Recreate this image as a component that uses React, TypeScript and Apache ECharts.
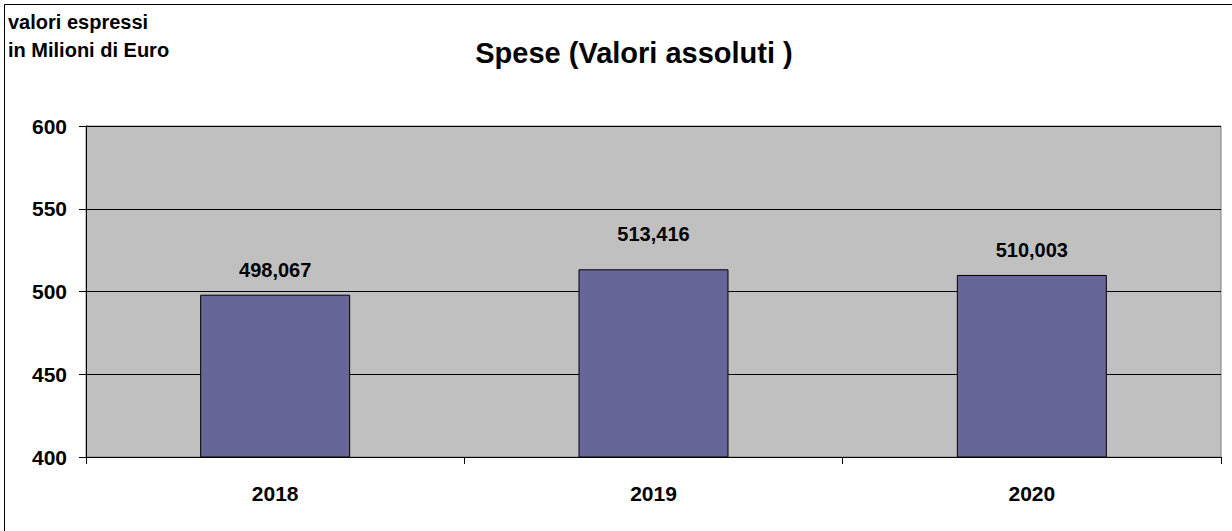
import React, { useEffect, useRef } from "react";
import * as echarts from "echarts";

const categories = ["2018", "2019", "2020"];
const values = [498.067, 513.416, 510.003];
const yTicks = { min: 400, max: 600, interval: 50 };
const titleText = "Spese (Valori assoluti )";
const unitText = "valori espressi\nin Milioni di Euro";

const FONT = "'Liberation Sans', Arial, sans-serif";

export default function App() {
  const ref = useRef<HTMLDivElement>(null);
  useEffect(() => {
    document.body.style.margin = "0";
    const chart = echarts.init(ref.current!, null, { renderer: "svg" });
    chart.setOption({
      animation: false,
      backgroundColor: "#ffffff",
      textStyle: { fontFamily: FONT },
      title: {
        text: titleText,
        left: 629,
        top: 33,
        textAlign: "center",
        textStyle: { fontFamily: FONT, fontSize: 29, fontWeight: "bold", color: "#000" },
      },
      graphic: [
        {
          type: "rect",
          shape: { x: 4.5, y: 4.5, width: 1250, height: 550 },
          style: { fill: "none", stroke: "#000", lineWidth: 1 },
          silent: true,
        },
        {
          type: "text",
          left: 8,
          top: 8,
          style: {
            text: unitText,
            fontFamily: FONT,
            fontSize: 20,
            fontWeight: "bold",
            lineHeight: 28,
            fill: "#000",
          },
        },
      ],
      grid: {
        left: 86,
        right: 11,
        top: 126,
        bottom: 74,
        show: true,
        backgroundColor: "#C0C0C0",
        borderColor: "#808080",
        borderWidth: 1,
      },
      xAxis: {
        type: "category",
        data: categories,
        axisLine: { show: true, lineStyle: { color: "#000", width: 1 } },
        axisTick: { show: true, length: 7, lineStyle: { color: "#000" } },
        axisLabel: {
          margin: 26,
          fontFamily: FONT,
          fontSize: 21,
          fontWeight: "bold",
          color: "#000",
        },
      },
      yAxis: {
        type: "value",
        min: yTicks.min,
        max: yTicks.max,
        interval: yTicks.interval,
        axisLine: { show: true, lineStyle: { color: "#000", width: 1 } },
        axisTick: { show: true, length: 7, lineStyle: { color: "#000" } },
        splitLine: { show: true, lineStyle: { color: "#000", width: 1 } },
        axisLabel: {
          margin: 19,
          fontFamily: FONT,
          fontSize: 21,
          fontWeight: "bold",
          color: "#000",
        },
      },
      series: [
        {
          type: "bar",
          data: values.map((v, i) =>
            i === 1 ? { value: v, label: { distance: 25 } } : v
          ),
          barWidth: 150,
          itemStyle: { color: "#666699", borderColor: "#000", borderWidth: 1 },
          label: {
            show: true,
            position: "top",
            distance: 15,
            fontFamily: FONT,
            fontSize: 20,
            fontWeight: "bold",
            color: "#000",
            formatter: (p: any) => p.value.toFixed(3).replace(".", ","),
          },
        },
      ],
    });
    return () => chart.dispose();
  }, []);
  return <div ref={ref} style={{ width: 1232, height: 531 }} />;
}
